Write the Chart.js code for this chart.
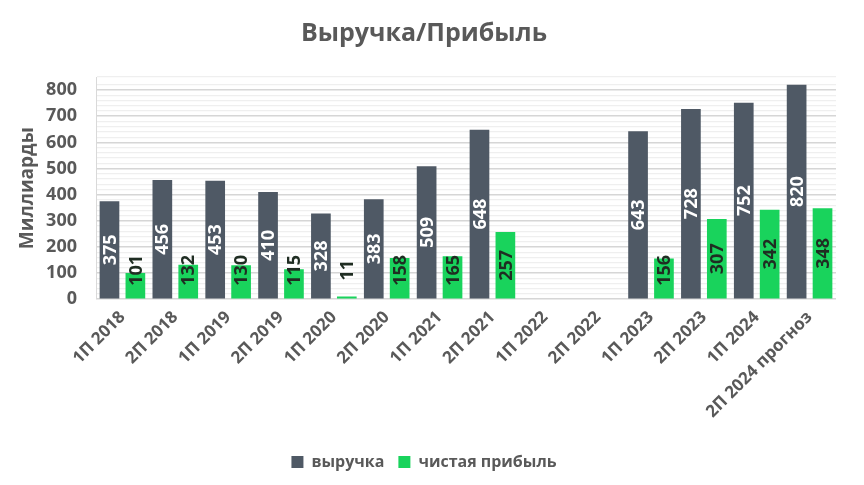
<!DOCTYPE html>
<html>
<head>
<meta charset="utf-8">
<script src="https://cdn.jsdelivr.net/npm/chart.js@4/dist/chart.umd.min.js"></script>
<style>
html,body{margin:0;padding:0;background:#fff;}
#wrap{width:864px;height:485px;position:relative;}
</style>
</head>
<body>
<div id="wrap"><canvas id="c"></canvas></div>
<script>
const categories = ['1П 2018','2П 2018','1П 2019','2П 2019','1П 2020','2П 2020','1П 2021','2П 2021','1П 2022','2П 2022','1П 2023','2П 2023','1П 2024','2П 2024 прогноз'];
const revenue = [375,456,453,410,328,383,509,648,null,null,643,728,752,820];
const profit  = [101,132,130,115,11,158,165,257,null,null,156,307,342,348];
const seriesNames = ['выручка','чистая прибыль'];
const titleText = 'Выручка/Прибыль';
const yTitle = 'Миллиарды';

const FONT = "'Open Sans', 'DejaVu Sans', sans-serif";
const GREY = '#595959';
const DARK = '#4f5965';
const GREEN = '#19d35c';

const labelPlugin = {
  id: 'barLabels',
  afterDatasetsDraw(chart) {
    const ctx = chart.ctx;
    const yScale = chart.scales.y;
    const baseY = yScale.getPixelForValue(0);
    chart.data.datasets.forEach((ds, di) => {
      const meta = chart.getDatasetMeta(di);
      meta.data.forEach((bar, i) => {
        const v = ds.data[i];
        if (v === null || v === undefined) return;
        const p = bar.getProps(['x','y','base'], true);
        let cy = (p.y + p.base) / 2;
        cy = Math.min(cy, baseY - 29);
        ctx.save();
        ctx.translate(p.x, cy);
        ctx.rotate(-Math.PI / 2);
        ctx.font = "bold 18px " + FONT;
        ctx.fillStyle = di === 0 ? '#ffffff' : '#1f2d22';
        ctx.textAlign = 'center';
        ctx.textBaseline = 'middle';
        ctx.fillText(String(v), 0, 1);
        ctx.restore();
      });
    });
  }
};

new Chart(document.getElementById('c'), {
  type: 'bar',
  data: {
    labels: categories,
    datasets: [
      { label: seriesNames[0], data: revenue, backgroundColor: DARK, categoryPercentage: 0.98, barPercentage: 0.76 },
      { label: seriesNames[1], data: profit, backgroundColor: GREEN, categoryPercentage: 0.98, barPercentage: 0.76 }
    ]
  },
  options: {
    responsive: true,
    maintainAspectRatio: false,
    animation: false,
    layout: { autoPadding: false, padding: { left: 12, right: 28, top: 0, bottom: 5 } },
    plugins: {
      title: {
        display: true, text: titleText, color: GREY,
        font: { family: FONT, size: 25, weight: 'bold' },
        padding: { top: 19, bottom: 28 }
      },
      legend: {
        position: 'bottom',
        labels: {
          color: GREY, boxWidth: 12, boxHeight: 12, padding: 14,
          font: { family: FONT, size: 16, weight: 'bold' }
        }
      },
      tooltip: { enabled: false }
    },
    scales: {
      x: {
        grid: { display: false, drawTicks: false },
        border: { display: false },
        afterFit: (scale) => { scale.paddingLeft = 0; scale.paddingRight = 0; scale.height += 10; },
        ticks: {
          color: GREY, maxRotation: 45, minRotation: 45, autoSkip: false, padding: 8,
          font: { family: FONT, size: 17, weight: 'bold' }
        }
      },
      y: {
        min: 0, max: 850,
        afterFit: (scale) => { scale.width = 84; },
        title: { display: true, text: yTitle, color: GREY, font: { family: FONT, size: 19, weight: 'bold' }, padding: { top: 4, bottom: 6 } },
        border: { display: true, color: '#d9d9d9', width: 1 },
        grid: {
          drawTicks: false,
          color: (c) => (c.tick && c.tick.value % 100 === 0) ? '#d6d6d6' : '#efefef',
          lineWidth: (c) => (c.tick && c.tick.value % 100 === 0) ? 1.6 : 1.2
        },
        ticks: {
          stepSize: 20, autoSkip: false, padding: 19, color: GREY,
          font: { family: FONT, size: 18, weight: 'bold' },
          callback: (v) => (v % 100 === 0 && v <= 800) ? String(v) : ''
        }
      }
    }
  },
  plugins: [labelPlugin]
});
</script>
</body>
</html>
